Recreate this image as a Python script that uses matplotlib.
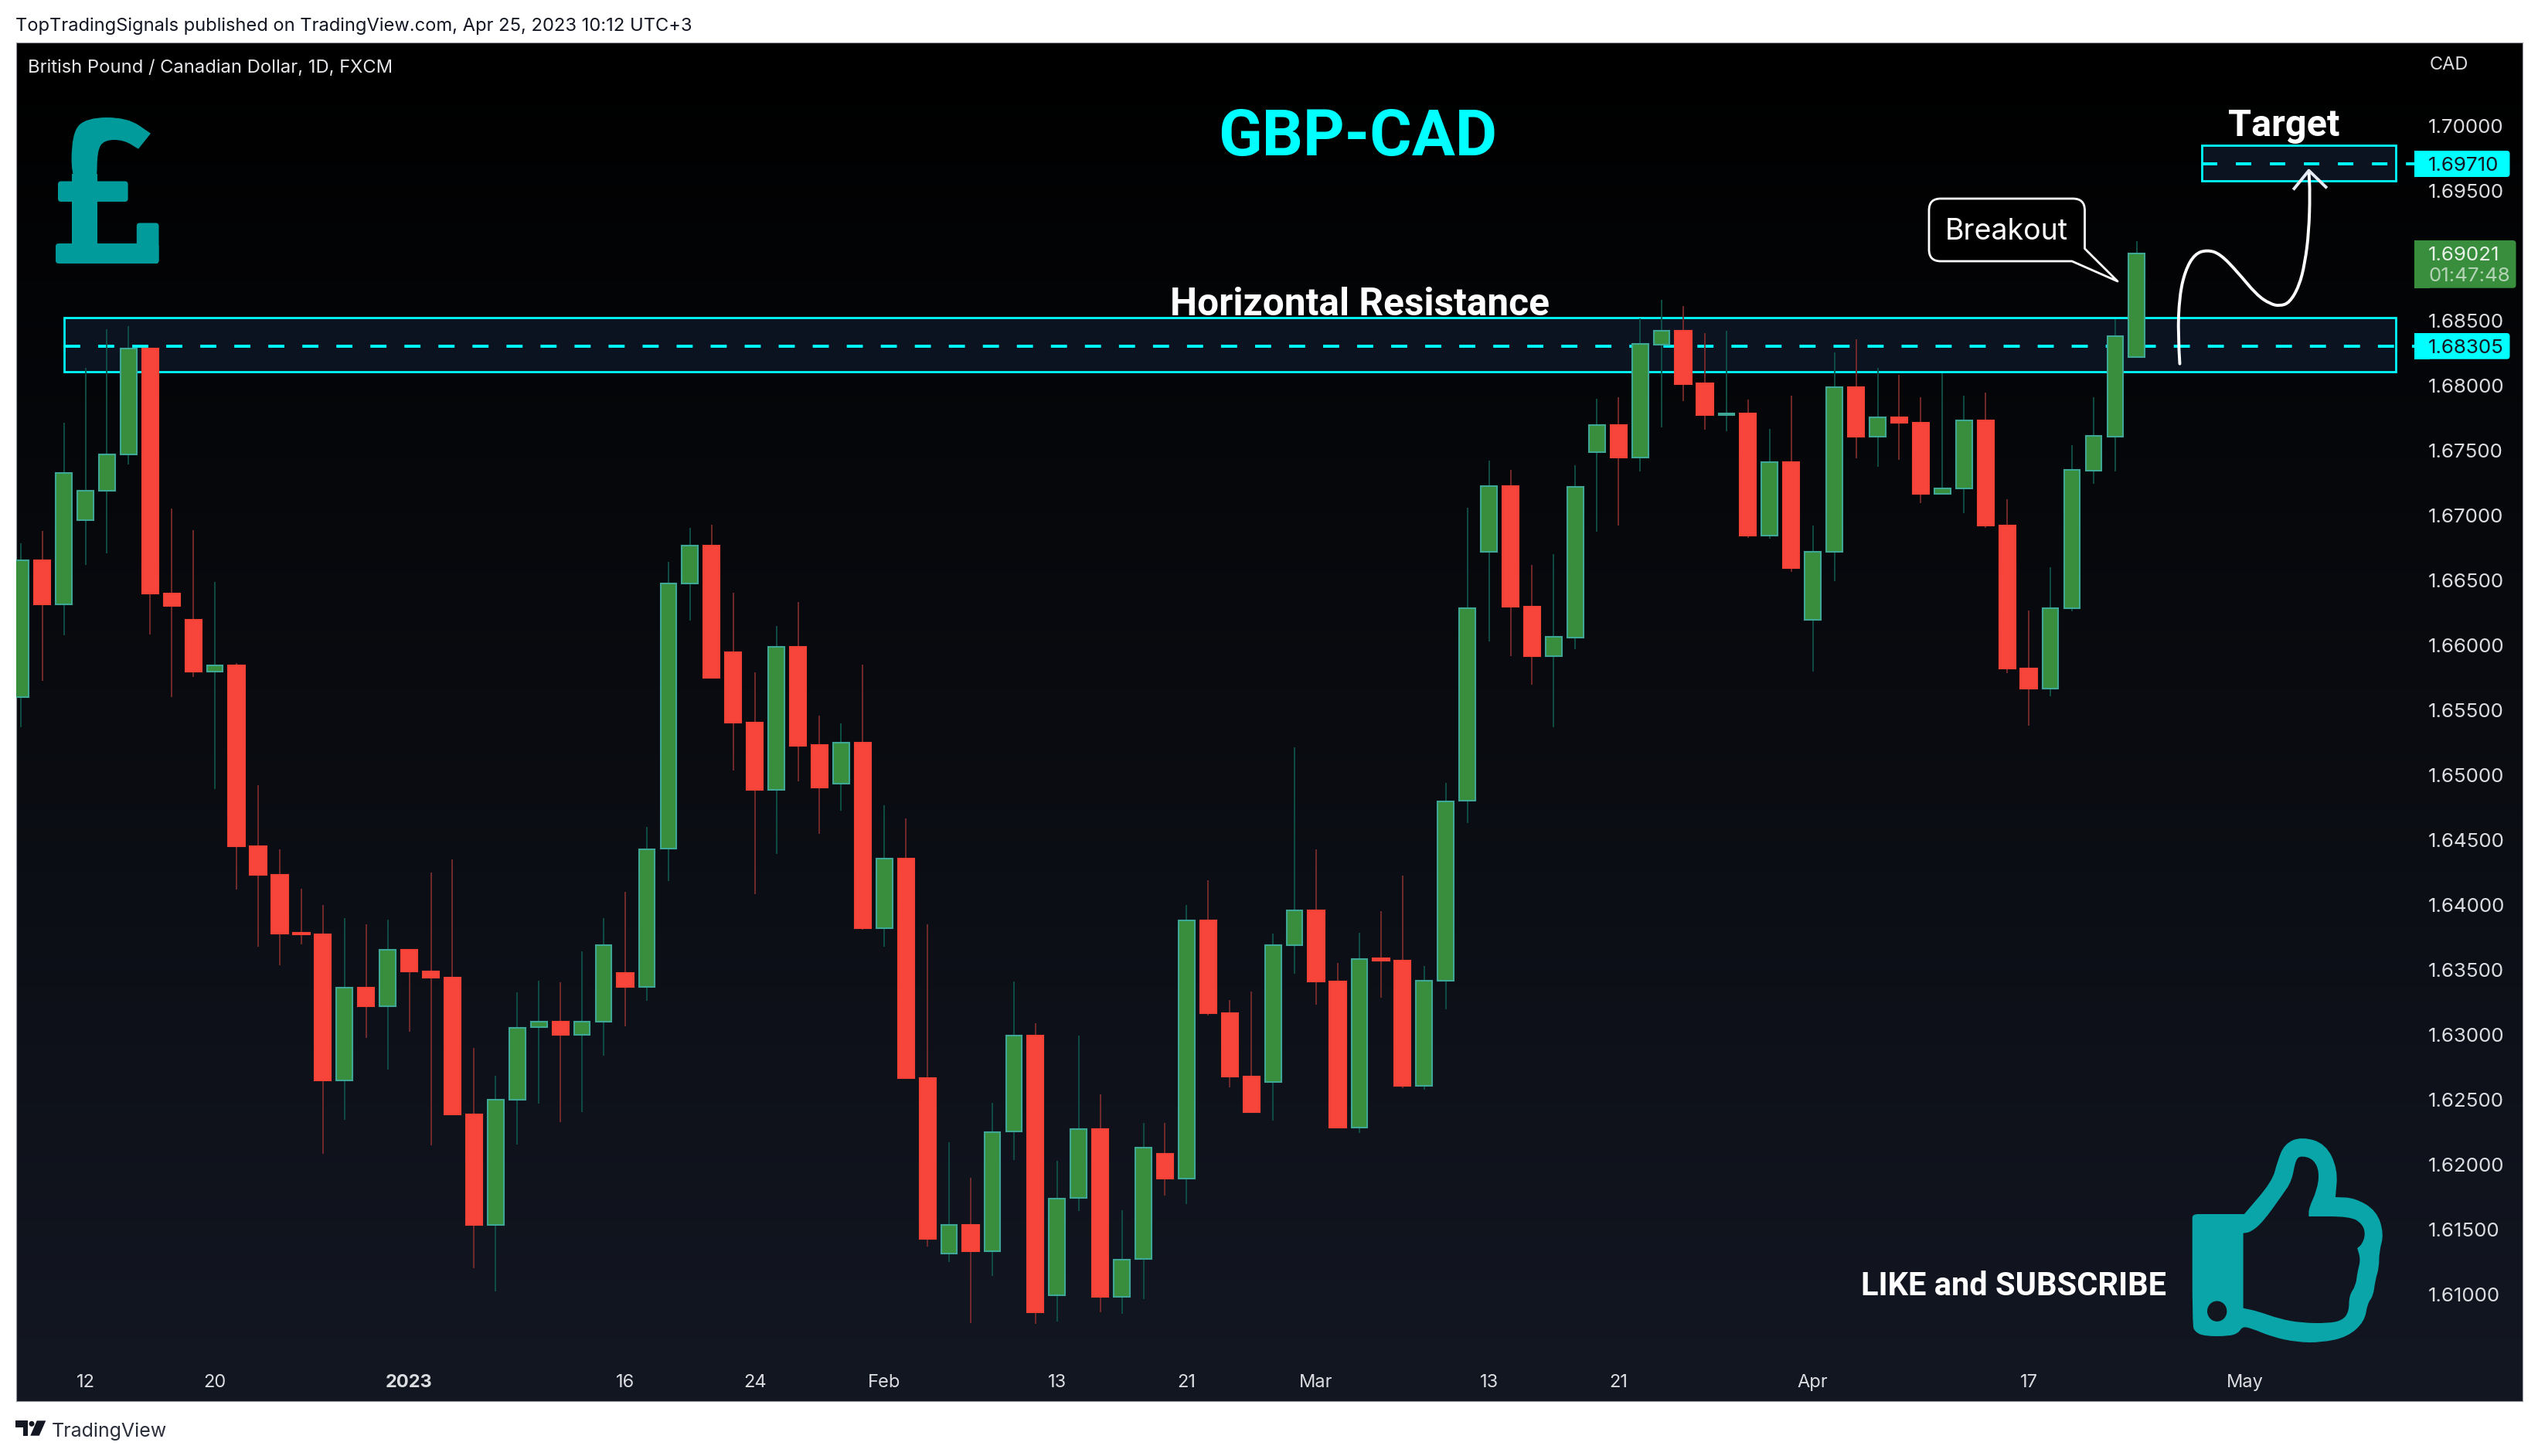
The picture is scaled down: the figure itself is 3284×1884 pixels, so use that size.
import numpy as np
import matplotlib
matplotlib.use("Agg")
import matplotlib.pyplot as plt
from matplotlib.colors import LinearSegmentedColormap
from matplotlib.patches import Rectangle, FancyBboxPatch, PathPatch, Ellipse, Circle, Polygon
from matplotlib.path import Path

plt.rcParams["font.family"] = ["Inter", "Roboto", "DejaVu Sans"]
plt.rcParams["lines.scale_dashes"] = False

opens = [1.65603, 1.66657, 1.66317, 1.66966, 1.67195, 1.67472, 1.68287, 1.66398, 1.66196, 1.65802,
         1.65849, 1.64454, 1.64236, 1.63787, 1.63773, 1.62648, 1.63365, 1.63222, 1.63657, 1.63490,
         1.63442, 1.62389, 1.61537, 1.62499, 1.63061, 1.63100, 1.63002, 1.63100, 1.63478, 1.63371,
         1.64436, 1.66481, 1.66770, 1.65951, 1.65407, 1.64889, 1.65990, 1.65234, 1.64939, 1.65252,
         1.63825, 1.64359, 1.62670, 1.61317, 1.61537, 1.61335, 1.62258, 1.62996, 1.60993, 1.61746,
         1.62278, 1.60982, 1.61273, 1.62085, 1.61897, 1.63885, 1.63171, 1.62682, 1.62639, 1.63694,
         1.63963, 1.63412, 1.62287, 1.63593, 1.63575, 1.62611, 1.63421, 1.64808, 1.66720, 1.67230,
         1.66302, 1.65920, 1.66063, 1.67492, 1.67698, 1.67450, 1.68318, 1.68424, 1.68020, 1.67778,
         1.67787, 1.66850, 1.67415, 1.66201, 1.66724, 1.67988, 1.67610, 1.67758, 1.67719, 1.67171,
         1.67208, 1.67732, 1.66927, 1.65826, 1.65671, 1.66285, 1.67349, 1.67610, 1.68224]
highs = [1.66787, 1.66883, 1.67716, 1.68139, 1.68436, 1.68460, 1.68287, 1.67055, 1.66889, 1.66490,
         1.65865, 1.64924, 1.64430, 1.64127, 1.64002, 1.63901, 1.63853, 1.63889, 1.63657, 1.64252,
         1.64353, 1.62901, 1.62686, 1.63329, 1.63418, 1.63407, 1.63645, 1.63901, 1.64103, 1.64603,
         1.66645, 1.66907, 1.66930, 1.66407, 1.65793, 1.66151, 1.66335, 1.65460, 1.65401, 1.65853,
         1.64770, 1.64668, 1.63853, 1.62174, 1.61901, 1.62478, 1.63412, 1.63091, 1.62032, 1.62996,
         1.62543, 1.61651, 1.62323, 1.62323, 1.64002, 1.64192, 1.63270, 1.63335, 1.63784, 1.65216,
         1.64430, 1.63555, 1.63787, 1.63954, 1.64228, 1.63532, 1.64942, 1.67061, 1.67424, 1.67353,
         1.66621, 1.66704, 1.67389, 1.67901, 1.67912, 1.68520, 1.68662, 1.68617, 1.68407, 1.68424,
         1.67892, 1.67668, 1.67924, 1.66924, 1.68258, 1.68359, 1.68139, 1.68085, 1.67912, 1.68097,
         1.67924, 1.67948, 1.67127, 1.66270, 1.66603, 1.67543, 1.67912, 1.68514, 1.69115]
lows = [1.65371, 1.65728, 1.66079, 1.66618, 1.66710, 1.67395, 1.66085, 1.65603, 1.65758, 1.64895,
        1.64121, 1.63680, 1.63537, 1.63698, 1.62085, 1.62347, 1.62978, 1.62734, 1.63026, 1.62151,
        1.62389, 1.61204, 1.61023, 1.62157, 1.62472, 1.62329, 1.62407, 1.62841, 1.63067, 1.63264,
        1.64186, 1.66192, 1.65752, 1.65038, 1.64085, 1.64395, 1.64954, 1.64549, 1.64728, 1.63811,
        1.63683, 1.62670, 1.61371, 1.61254, 1.60783, 1.61142, 1.62037, 1.60776, 1.60793, 1.61646,
        1.60862, 1.60855, 1.60963, 1.61766, 1.61695, 1.63151, 1.62599, 1.62409, 1.62341, 1.63472,
        1.63231, 1.62287, 1.62248, 1.63287, 1.62591, 1.62579, 1.63198, 1.64633, 1.66033, 1.65920,
        1.65698, 1.65371, 1.65974, 1.66877, 1.66924, 1.67341, 1.67682, 1.67884, 1.67662, 1.67652,
        1.66830, 1.66821, 1.66569, 1.65801, 1.66498, 1.67442, 1.67377, 1.67433, 1.67099, 1.67171,
        1.67021, 1.66909, 1.65789, 1.65384, 1.65611, 1.66265, 1.67246, 1.67341, 1.68216]
closes = [1.66657, 1.66317, 1.67329, 1.67195, 1.67472, 1.68287, 1.66398, 1.66308, 1.65802, 1.65849,
          1.64454, 1.64236, 1.63784, 1.63773, 1.62648, 1.63365, 1.63222, 1.63657, 1.63490, 1.63442,
          1.62389, 1.61537, 1.62499, 1.63055, 1.63100, 1.63002, 1.63100, 1.63694, 1.63371, 1.64430,
          1.66481, 1.66770, 1.65752, 1.65407, 1.64889, 1.65990, 1.65228, 1.64907, 1.65249, 1.63823,
          1.64359, 1.62670, 1.61433, 1.61537, 1.61335, 1.62252, 1.62996, 1.60865, 1.61740, 1.62278,
          1.60982, 1.61270, 1.62133, 1.61897, 1.63885, 1.63168, 1.62682, 1.62409, 1.63694, 1.63963,
          1.63412, 1.62287, 1.63585, 1.63571, 1.62609, 1.63421, 1.64799, 1.66290, 1.67230, 1.66302,
          1.65920, 1.66065, 1.67220, 1.67698, 1.67450, 1.68321, 1.68422, 1.68015, 1.67778, 1.67787,
          1.66847, 1.67415, 1.66599, 1.66724, 1.67988, 1.67610, 1.67756, 1.67719, 1.67171, 1.67208,
          1.67732, 1.66924, 1.65826, 1.65671, 1.66285, 1.67351, 1.67613, 1.68385, 1.69021]

y_ticks = [1.70, 1.695, 1.685, 1.68, 1.675, 1.67, 1.665, 1.66, 1.655, 1.65, 1.645, 1.64,
           1.635, 1.63, 1.625, 1.62, 1.615, 1.61]
x_tick_pos = [3, 9, 18, 28, 34, 40, 48, 54, 60, 68, 74, 83, 93, 103]
x_tick_labels = ["12", "20", "2023", "16", "24", "Feb", "13", "21", "Mar", "13", "21", "Apr", "17", "May"]

resistance_top, resistance_bottom, resistance_level = 1.68523, 1.68109, 1.68305
target_top, target_bottom, target_level = 1.69855, 1.69579, 1.69710

CYAN = "#00ffff"
TEAL = "#09a5a8"
GREEN = "#388e3c"
RED = "#f7453b"
POUND = "#019b9c"
AXIS_TEXT = "#dcdde1"
PRICE_SIZE = 18.7

W, H = 3284, 1884
fig = plt.figure(figsize=(W / 100, H / 100), dpi=100, facecolor="white")
L, R, T, B = 20.5, 3263.5, 54.5, 1813
ax = fig.add_axes([L / W, (H - B) / H, (R - L) / W, (B - T) / H])

cmap = LinearSegmentedColormap.from_list("bg", ["#000000", "#131722"])
xlim = (-0.222, 115.85)
ylim = (1.60180, 1.70648)
ax.imshow(np.linspace(0, 1, 256).reshape(-1, 1), cmap=cmap, aspect="auto",
          extent=(xlim[0], xlim[1], ylim[0], ylim[1]), zorder=0)
ax.set_xlim(xlim)
ax.set_ylim(ylim)

# bands go behind the candles
for x0, x1, top, bottom in [(2, 110, resistance_top, resistance_bottom),
                            (101, 110, target_top, target_bottom)]:
    ax.add_patch(Rectangle((x0, bottom), x1 - x0, top - bottom, facecolor="#0b1321",
                           edgecolor=CYAN, linewidth=2.0, zorder=1))
ax.plot([2, 110.86], [resistance_level] * 2, color=CYAN, lw=2.8, dashes=(15, 16.7),
        dash_capstyle="butt", zorder=2)
ax.plot([101, 110.86], [target_level] * 2, color=CYAN, lw=2.8, dashes=(14.4, 17.3),
        dash_capstyle="butt", zorder=2)

x = np.arange(len(opens))
o = np.array(opens)
h = np.array(highs)
l = np.array(lows)
c = np.array(closes)
up = c >= o

ax.vlines(x[up], l[up], h[up], color="#0f5249", lw=1.3, zorder=3)
ax.vlines(x[~up], l[~up], h[~up], color="#7a2c2c", lw=1.3, zorder=3)
ax.bar(x[up], (c - o)[up], bottom=o[up], width=0.74, color=GREEN, edgecolor="#3fa796",
       linewidth=1.5, zorder=4)
ax.bar(x[~up], (o - c)[~up], bottom=c[~up], width=0.76, color=RED, edgecolor="#f44336",
       linewidth=1.5, zorder=4)

ax.yaxis.tick_right()
ax.set_yticks(y_ticks)
ax.set_yticklabels([f"{v:.5f}" for v in y_ticks])
ax.set_xticks(x_tick_pos)
ax.set_xticklabels(x_tick_labels)
ax.tick_params(axis="y", length=0, pad=-87.5, labelsize=PRICE_SIZE, labelcolor=AXIS_TEXT)
ax.tick_params(axis="x", length=0, pad=-25, labelsize=17, labelcolor=AXIS_TEXT)
ax.get_xticklabels()[2].set_fontweight("bold")
for s in ax.spines.values():
    s.set_color("#9598a1")
    s.set_linewidth(0.8)

# overlay in image pixels for the hand drawn stuff
ov = fig.add_axes([0, 0, 1, 1], facecolor="none")
ov.set_xlim(0, W)
ov.set_ylim(H, 0)
ov.axis("off")


def smooth(pts, closed=True):
    pts = np.array(pts, dtype=float)
    verts, codes = [], []
    if closed:
        verts.append((pts[-1] + pts[0]) / 2)
        codes.append(Path.MOVETO)
        for i in range(len(pts)):
            nxt = pts[(i + 1) % len(pts)]
            verts += [pts[i], (pts[i] + nxt) / 2]
            codes += [Path.CURVE3, Path.CURVE3]
    else:
        verts.append(pts[0])
        codes.append(Path.MOVETO)
        for i in range(1, len(pts) - 1):
            verts += [pts[i], (pts[i] + pts[i + 1]) / 2]
            codes += [Path.CURVE3, Path.CURVE3]
        verts.append(pts[-1])
        codes.append(Path.LINETO)
    return Path(verts, codes)


def round_box(x0, x1, y0, y1, color, r=4):
    ov.add_patch(FancyBboxPatch((x0 + r, y0 + r), x1 - x0 - 2 * r, y1 - y0 - 2 * r,
                                boxstyle=f"round,pad={r},rounding_size={r}",
                                facecolor=color, edgecolor="none"))


# price labels, square on the left side
for y0, y1, x1, color in [(195, 229, 3247.5, CYAN), (431, 464.7, 3247.5, CYAN), (311, 372.7, 3255.5, GREEN)]:
    round_box(3124, x1, y0, y1, color)
    ov.add_patch(Rectangle((3124, y0), 20, y1 - y0, color=color, lw=0))
ov.text(3142, 212, "1.69710", color="#131722", fontsize=PRICE_SIZE, va="center_baseline")
ov.text(3142, 448, "1.68305", color="#131722", fontsize=PRICE_SIZE, va="center_baseline")
ov.text(3142, 328, "1.69021", color="#e8f1e8", fontsize=PRICE_SIZE, va="center_baseline")
ov.text(3142, 355, "01:47:48", color="#b5d4b6", fontsize=PRICE_SIZE, va="center_baseline")
ov.text(3144, 81, "CAD", color=AXIS_TEXT, fontsize=17, va="center_baseline")

# header and footer
ov.text(20, 31.5, "TopTradingSignals published on TradingView.com, Apr 25, 2023 10:12 UTC+3",
        color="#131722", fontsize=17.05, va="center_baseline")
ov.text(36.5, 85.5, "British Pound / Canadian Dollar, 1D, FXCM", color="#e6e7ea", fontsize=17.1,
        va="center_baseline")
ov.text(67, 1850, "TradingView", color="#2a2e39", fontsize=18, va="center_baseline")
ov.add_patch(Polygon([(20, 1838.3), (36, 1838.3), (36, 1857.7), (30, 1857.7), (30, 1847), (20, 1847)],
                     facecolor="#131722", edgecolor="none"))
ov.add_patch(Circle((41, 1842.3), 3.5, color="#131722", lw=0))
ov.add_patch(Polygon([(47.7, 1838.3), (59.3, 1838.3), (50.7, 1857.7), (39.3, 1857.7)],
                     facecolor="#131722", edgecolor="none"))

# headings
ov.text(1757, 170, "GBP-CAD", color=CYAN, fontsize=60, fontweight="bold", family=["Roboto"], ha="center",
        va="center_baseline")
ov.text(1759, 389, "Horizontal Resistance", color="white", fontsize=35.7, fontweight="bold", family=["Roboto"],
        ha="center", va="center_baseline")
ov.text(2955, 158, "Target", color="white", fontsize=35, fontweight="bold", family=["Roboto"], ha="center",
        va="center_baseline")
ov.text(2606, 1660, "LIKE and SUBSCRIBE", color="white", fontsize=30, fontweight="bold", family=["Roboto"],
        ha="center", va="center_baseline")

# breakout bubble
bubble = [(2526, 257), (2667, 257), (2697.5, 257), (2697.5, 287), (2697.5, 321.7), (2697.5, 321.7),
          (2740, 364), (2740, 364), (2740, 364), (2681, 338), (2681, 338), (2526, 338), (2496, 338), (2496, 308),
          (2496, 287), (2496, 257)]
ov.add_patch(PathPatch(smooth(bubble), facecolor="black", edgecolor="white", linewidth=2.0, joinstyle="round"))
ov.text(2596.5, 296, "Breakout", color="white", fontsize=27, ha="center", va="center_baseline")

# hand drawn arrow
curve = [(641, 1262), (636, 1150), (640, 1000), (655, 900), (680, 835), (712, 820), (745, 835), (790, 905),
         (840, 995), (875, 1030), (900, 1038), (925, 1025), (950, 960), (965, 870), (975, 750), (978, 600),
         (975, 515)]
curve = [(px / 2 + 2500, py / 3 + 50) for px, py in curve]
ov.add_patch(PathPatch(smooth(curve, closed=False), facecolor="none", edgecolor="white", linewidth=2.8,
                       capstyle="round"))
head = [(937, 582), (975, 512), (1019, 576)]
ov.plot([p[0] / 2 + 2500 for p in head], [p[1] / 3 + 50 for p in head], color="#e6ebf5", lw=2.8)

# pound sign
hook = [(92.6, 240), (92.6, 172), (112, 152), (165, 152), (195, 172.7), (195, 172.7), (179, 192.7), (179, 192.7),
        (160, 181), (135, 181), (125.6, 195), (125.6, 240)]
ov.add_patch(PathPatch(smooth(hook), facecolor=POUND, edgecolor="none"))
ov.add_patch(Rectangle((92.6, 225), 33, 95, color=POUND, lw=0))
for x0, x1, y0, y1 in [(75, 165.6, 234.5, 261), (72, 205.5, 315, 341), (176.8, 205.5, 288.5, 341)]:
    round_box(x0, x1, y0, y1, POUND)

# thumbs up
outer = [(855, 940), (855, 540), (855, 513), (880, 513), (962, 513), (962, 513), (1020, 385), (1030, 310), (1045, 240),
         (1080, 212), (1130, 240), (1155, 340), (1150, 447), (1150, 447), (1190, 450), (1235, 500), (1250, 590),
         (1240, 660), (1240, 720), (1232, 770), (1228, 830), (1216, 860), (1210, 930), (1175, 990), (1120, 1012),
         (1070, 1010), (1020, 990), (975, 955), (958, 950), (950, 975), (930, 987), (880, 987), (860, 970)]
inner = [(960, 587), (960, 587), (975, 583), (1000, 545), (1040, 440), (1060, 385), (1068, 300), (1080, 286), (1105, 300),
         (1117, 350), (1112, 420), (1095, 490), (1095, 522), (1095, 522), (1180, 522), (1205, 550), (1212, 590),
         (1205, 630), (1195, 645), (1195, 645), (1202, 690), (1195, 740), (1192, 790), (1178, 830), (1178, 890), (1165, 925),
         (1135, 937), (1080, 935), (1035, 920), (990, 890), (960, 878), (960, 878)]
to_px = lambda pts: [(px / 1.593 + 2300, py / 3 + 1400) for px, py in pts]
thumb = Path.make_compound_path(smooth(to_px(outer)), smooth(to_px(inner[::-1])))
ov.add_patch(PathPatch(thumb, facecolor=TEAL, edgecolor="none"))
ov.add_patch(Ellipse((2868.7, 1696.7), 24, 25, color="#12161f"))

fig.savefig("out.png", dpi=100, facecolor="white")
